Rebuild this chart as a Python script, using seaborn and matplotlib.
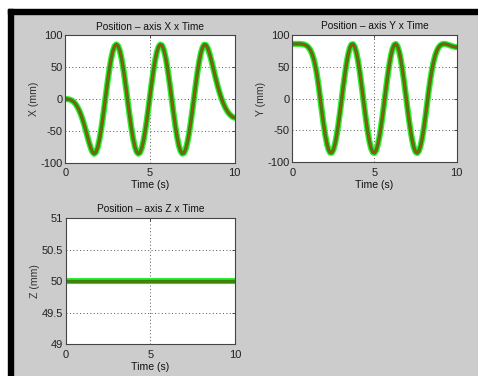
import numpy as np
import pandas as pd
import seaborn as sns
import matplotlib
matplotlib.use("Agg")
import matplotlib.pyplot as plt
from matplotlib.patches import Rectangle

time_s = [0.0, 0.1, 0.2, 0.3, 0.4, 0.5, 0.6, 0.7, 0.8, 0.9,
          1.0, 1.1, 1.2, 1.3, 1.4, 1.5, 1.6, 1.7, 1.8, 1.9,
          2.0, 2.1, 2.2, 2.3, 2.4, 2.5, 2.6, 2.7, 2.8, 2.9,
          3.0, 3.1, 3.2, 3.3, 3.4, 3.5, 3.6, 3.7, 3.8, 3.9,
          4.0, 4.1, 4.2, 4.3, 4.4, 4.5, 4.6, 4.7, 4.8, 4.9,
          5.0, 5.1, 5.2, 5.3, 5.4, 5.5, 5.6, 5.7, 5.8, 5.9,
          6.0, 6.1, 6.2, 6.3, 6.4, 6.5, 6.6, 6.7, 6.8, 6.9,
          7.0, 7.1, 7.2, 7.3, 7.4, 7.5, 7.6, 7.7, 7.8, 7.9,
          8.0, 8.1, 8.2, 8.3, 8.4, 8.5, 8.6, 8.7, 8.8, 8.9,
          9.0, 9.1, 9.2, 9.3, 9.4, 9.5, 9.6, 9.7, 9.8, 9.9,
          10.0]

x_mm = [0.0, 0.0, -0.4, -1.2, -2.6, -4.8, -7.9, -12.0, -17.3, -23.6,
        -31.2, -39.8, -49.2, -59.1, -68.8, -77.3, -83.6, -86.0, -83.5, -76.3,
        -64.6, -49.2, -31.1, -11.1, 9.5, 29.6, 47.9, 63.5, 75.5, 83.2,
        86.0, 83.9, 77.0, 65.7, 50.6, 32.6, 12.7, -7.9, -28.0, -46.5,
        -62.4, -74.8, -82.7, -85.9, -84.2, -77.7, -66.7, -51.9, -34.1, -14.3,
        6.2, 26.5, 45.1, 61.3, 73.9, 82.2, 85.8, 84.6, 78.4, 67.8,
        53.2, 35.6, 16.0, -4.6, -24.9, -43.7, -60.1, -73.1, -81.7, -85.8,
        -84.8, -79.1, -68.7, -54.5, -37.1, -17.5, 3.0, 23.4, 42.3, 59.0,
        72.2, 81.2, 85.6, 85.1, 80.5, 72.7, 63.0, 52.2, 41.1, 30.3,
        20.0, 10.7, 2.4, -4.9, -11.1, -16.3, -20.6, -23.9, -26.5, -28.3,
        -29.4]

y_mm = [86.0, 86.0, 86.0, 86.0, 86.0, 85.9, 85.6, 85.2, 84.2, 82.7,
        80.1, 76.2, 70.5, 62.5, 51.6, 37.7, 20.2, 0.0, -20.5, -39.7,
        -56.7, -70.5, -80.2, -85.3, -85.5, -80.8, -71.4, -58.0, -41.1, -21.8,
        -1.6, 18.9, 38.3, 55.5, 69.6, 79.6, 85.1, 85.6, 81.3, 72.3,
        59.2, 42.5, 23.6, 3.3, -17.3, -36.8, -54.2, -68.6, -78.9, -84.8,
        -85.8, -81.8, -73.2, -60.3, -43.9, -25.2, -4.9, 15.7, 35.3, 53.0,
        67.6, 78.3, 84.5, 85.9, 82.3, 74.1, 61.5, 45.3, 26.8, 6.5,
        -14.1, -33.8, -51.7, -66.5, -77.6, -84.2, -85.9, -82.8, -74.9, -62.6,
        -46.8, -28.3, -8.2, 12.1, 30.4, 45.9, 58.6, 68.4, 75.5, 80.5,
        83.6, 85.3, 86.0, 85.9, 85.3, 84.4, 83.5, 82.6, 81.8, 81.2,
        80.8]

z_time = [0.0, 10.0]
z_mm = [50.0, 50.0]

x_ticks = [0, 5, 10]
xy_ticks = [-100, -50, 0, 50, 100]
z_ticks = [49, 49.5, 50, 50.5, 51]
z_tick_labels = ["49", "49.5", "50", "50.5", "51"]

sns.set_theme(style="white")
plt.rcParams["font.family"] = ["Liberation Sans", "DejaVu Sans"]
plt.rcParams["font.size"] = 7
plt.rcParams["axes.unicode_minus"] = False

fig = plt.figure(figsize=(4.78, 3.76), dpi=100, facecolor="#cccccc")

# window frame from the screenshot
fig.patches.append(Rectangle((0, 367 / 376), 1, 9 / 376, transform=fig.transFigure,
                             color="white", zorder=0))
fig.patches.append(Rectangle((0, 0), 8 / 478, 1, transform=fig.transFigure,
                             color="white", zorder=0))
fig.patches.append(Rectangle((8 / 478, 362 / 376), 1, 5 / 376, transform=fig.transFigure,
                             color="black", zorder=1))
fig.patches.append(Rectangle((8 / 478, 0), 5 / 478, 367 / 376, transform=fig.transFigure,
                             color="black", zorder=1))

ax1 = fig.add_axes([0.1370, 0.5673, 0.3540, 0.3383])
ax2 = fig.add_axes([0.6115, 0.5691, 0.3439, 0.3378])
ax3 = fig.add_axes([0.1374, 0.0851, 0.3542, 0.3351])


def draw_trace(ax, t, v):
    # MATLAB-ish thick green trace with darker core and red centre
    sns.lineplot(x=t, y=v, ax=ax, color="#2ef02e", linewidth=4.4, sort=False)
    sns.lineplot(x=t, y=v, ax=ax, color="#3f7f0c", linewidth=2.5, sort=False)
    sns.lineplot(x=t, y=v, ax=ax, color="#c8401a", linewidth=0.6, sort=False)


def style_axes(ax, title, ylabel, yticks, ylabels=None):
    ax.set_facecolor("white")
    ax.set_xlim(0, 10)
    ax.set_xticks(x_ticks)
    ax.set_ylim(yticks[0], yticks[-1])
    ax.set_yticks(yticks)
    if ylabels is not None:
        ax.set_yticklabels(ylabels)
    ax.grid(True, color="#555555", linestyle=(0, (1, 2.5)), linewidth=0.7)
    ax.tick_params(direction="in", length=2.5, width=0.6, colors="#333333",
                   labelsize=8, pad=2, top=True, right=True)
    ax.tick_params(axis="x", pad=4)
    for lbl in ax.get_xticklabels() + ax.get_yticklabels():
        lbl.set_color("#222222")
    for s in ax.spines.values():
        s.set_color("#444444")
        s.set_linewidth(0.8)
    ax.set_title(title, fontsize=7.3, color="#111111", pad=4)
    ax.set_xlabel("Time (s)", fontsize=7.6, color="#111111", labelpad=1.5)
    ax.set_ylabel(ylabel, fontsize=7.6, color="#333333", labelpad=1)


draw_trace(ax1, time_s, x_mm)
style_axes(ax1, "Position \u2013 axis X x Time", "X (mm)", xy_ticks)

draw_trace(ax2, time_s, y_mm)
style_axes(ax2, "Position \u2013 axis Y x Time", "Y (mm)", xy_ticks)

draw_trace(ax3, z_time, z_mm)
style_axes(ax3, "Position \u2013 axis Z x Time", "Z (mm)", z_ticks, z_tick_labels)

fig.savefig("out.png", dpi=100, facecolor=fig.get_facecolor())
